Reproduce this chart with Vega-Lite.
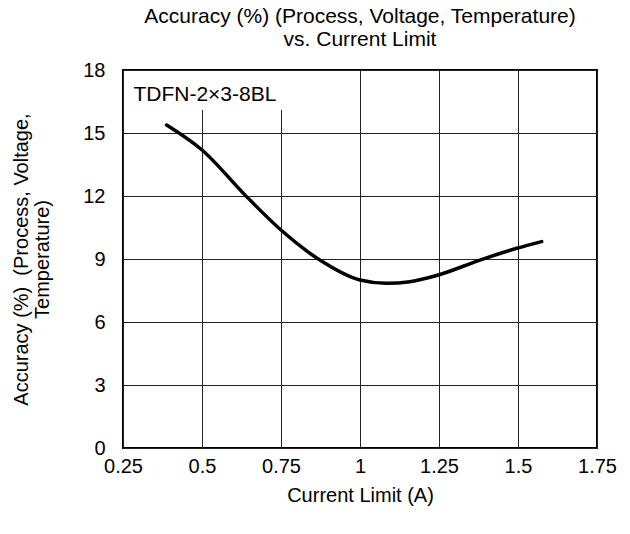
{
  "$schema": "https://vega.github.io/schema/vega-lite/v6.json",
  "width": 474,
  "height": 378,
  "autosize": {"type": "none"},
  "padding": {"left": 123, "top": 70, "right": 33, "bottom": 86},
  "background": "white",
  "config": {
    "font": "Liberation Sans",
    "view": {"stroke": "#000", "strokeWidth": 2},
    "axis": {
      "grid": true, "gridColor": "#222", "gridWidth": 1, "gridOpacity": 1,
      "ticks": false, "domain": false,
      "labelFont": "Liberation Sans", "labelFontSize": 20, "labelColor": "#000",
      "titleFont": "Liberation Sans", "titleFontSize": 20, "titleFontWeight": "normal", "titleColor": "#000"
    }
  },
  "title": {
    "text": ["Accuracy (%) (Process, Voltage, Temperature)", "vs. Current Limit"],
    "font": "Liberation Sans", "fontSize": 21, "fontWeight": "normal", "color": "#000",
    "lineHeight": 23, "offset": 10, "anchor": "middle"
  },
  "datasets": {
    "curve": [
      {"current": 0.388, "accuracy": 15.38},
      {"current": 0.5, "accuracy": 14.19},
      {"current": 0.641, "accuracy": 11.97},
      {"current": 0.75, "accuracy": 10.38},
      {"current": 0.873, "accuracy": 8.95},
      {"current": 1.0, "accuracy": 8.0},
      {"current": 1.084, "accuracy": 7.84},
      {"current": 1.158, "accuracy": 7.92},
      {"current": 1.248, "accuracy": 8.24},
      {"current": 1.38, "accuracy": 8.95},
      {"current": 1.496, "accuracy": 9.51},
      {"current": 1.575, "accuracy": 9.83}
    ],
    "note": [{"label": "TDFN-2×3-8BL"}]
  },
  "layer": [
    {
      "data": {"name": "curve"},
      "mark": {"type": "line", "color": "#000", "strokeWidth": 3.5, "interpolate": "monotone", "strokeCap": "round"},
      "encoding": {
        "x": {"field": "current", "type": "quantitative",
          "scale": {"domain": [0.25, 1.75], "nice": false, "zero": false},
          "axis": {"values": [0.25, 0.5, 0.75, 1, 1.25, 1.5, 1.75], "labelExpr": "'' + datum.value", "labelPadding": 8, "title": "Current Limit (A)", "titlePadding": 9, "labelFlush": false}},
        "y": {"field": "accuracy", "type": "quantitative",
          "scale": {"domain": [0, 18], "nice": false},
          "axis": {"values": [0, 3, 6, 9, 12, 15, 18], "labelPadding": 18, "title": ["Accuracy (%)\u00a0 (Process, Voltage,", "Temperature)"], "titlePadding": 30, "titleLineHeight": 21, "labelFlush": false}}
      }
    },
    {
      "data": {"name": "note"},
      "mark": {"type": "rect", "fill": "white"},
      "encoding": {
        "x": {"datum": 0.256}, "x2": {"datum": 0.775},
        "y": {"datum": 16.1}, "y2": {"datum": 17.95}
      }
    },
    {
      "data": {"name": "note"},
      "mark": {"type": "text", "align": "left", "baseline": "middle", "fontSize": 21, "font": "Liberation Sans", "color": "#000"},
      "encoding": {
        "x": {"datum": 0.283}, "y": {"datum": 16.8},
        "text": {"field": "label"}
      }
    }
  ]
}
